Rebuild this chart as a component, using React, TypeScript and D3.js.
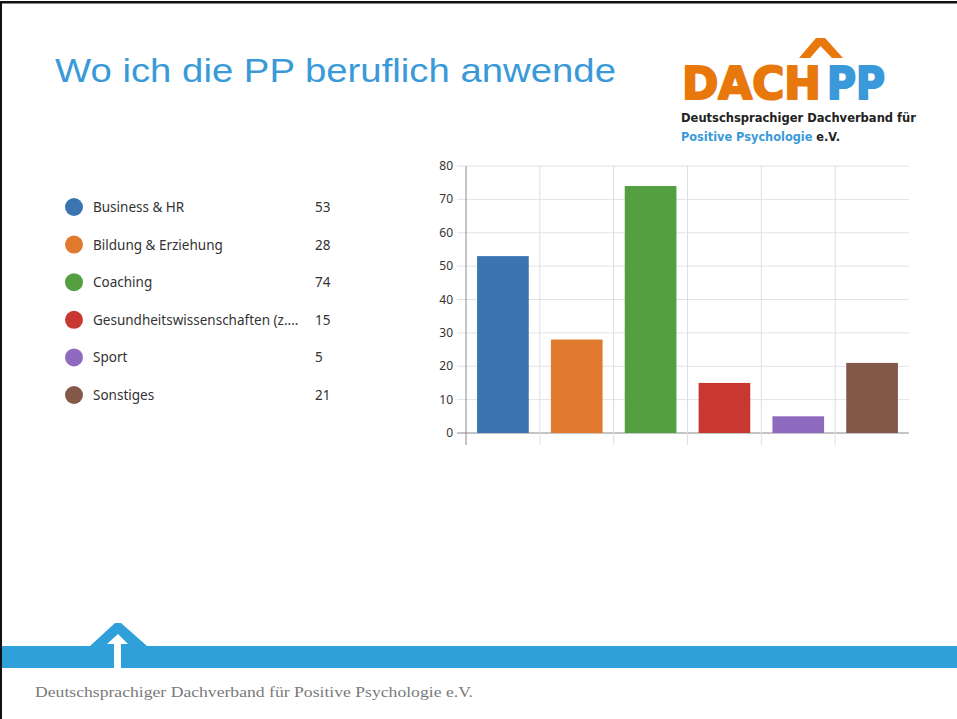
import React from "react";
import * as d3 from "d3";

const categories = ["Business & HR", "Bildung & Erziehung", "Coaching", "Gesundheitswissenschaften (z....", "Sport", "Sonstiges"];
const values = [53, 28, 74, 15, 5, 21];
const colors = ["#3b74b0", "#e07a2e", "#54a040", "#c93731", "#8f6bbf", "#845849"];
const yTicks = [0, 10, 20, 30, 40, 50, 60, 70, 80];

const W = 957, H = 719;

export default function App() {
  const x = d3.scaleBand<string>().domain(categories).range([466, 909]).paddingInner(0.3).paddingOuter(0.15);
  const y = d3.scaleLinear().domain([0, 80]).range([433, 166]);
  const step = x.step();
  const boundaries = d3.range(0, categories.length).map((k) => 466 + k * step);
  const legendY = d3.scalePoint<string>().domain(categories).range([207, 395]);

  return (
    <svg width={W} height={H} style={{ position: "absolute", left: 0, top: 0, background: "#fff" }}>
      <rect x={0} y={0} width={W} height={H} fill="#fff" />
      {/* border */}
      <rect x={0} y={1} width={W} height={2.5} fill="#111" />
      <rect x={0} y={1} width={2} height={H} fill="#111" />

      {/* title */}
      <text x={55} y={82} fontFamily="Liberation Sans, Arial" fontSize={34} fill="#3a9ad9" textLength={561} lengthAdjust="spacingAndGlyphs">
        Wo ich die PP beruflich anwende
      </text>

      {/* logo */}
      <path d="M799,58 L816,38 L825,38 L843,58 L832,58 L820.5,46 L810,58 Z" fill="#e8780c" />
      <text x={682} y={99} fontFamily="DejaVu Sans" fontWeight={700} fontSize={45} fill="#e8780c" stroke="#e8780c" strokeWidth={2.2} strokeLinejoin="round" textLength={139} lengthAdjust="spacingAndGlyphs">DACH</text>
      <text x={827} y={99} fontFamily="DejaVu Sans" fontWeight={700} fontSize={45} fill="#3a9ad9" stroke="#3a9ad9" strokeWidth={2.2} strokeLinejoin="round" textLength={58} lengthAdjust="spacingAndGlyphs">PP</text>
      <text x={681} y={122} fontFamily="DejaVu Sans, Noto Sans" fontWeight={700} fontSize={12.5} fill="#222" textLength={235} lengthAdjust="spacingAndGlyphs">Deutschsprachiger Dachverband für</text>
      <text x={681} y={141} fontFamily="DejaVu Sans, Noto Sans" fontWeight={700} fontSize={12.5} fill="#222" textLength={159} lengthAdjust="spacingAndGlyphs">
        <tspan fill="#3a9ad9">Positive Psychologie</tspan>
        <tspan> e.V.</tspan>
      </text>

      {/* legend */}
      {categories.map((c, i) => (
        <g key={c}>
          <circle cx={74} cy={legendY(c)!} r={9} fill={colors[i]} />
          <text x={93} y={legendY(c)! + 5} fontFamily="Noto Sans, Open Sans" fontSize={13.5} fill="#333">{c}</text>
          <text x={315} y={legendY(c)! + 5} fontFamily="Noto Sans, Open Sans" fontSize={13.5} fill="#333">{values[i]}</text>
        </g>
      ))}

      {/* gridlines */}
      {yTicks.map((t) => (
        <g key={t}>
          <line x1={457} x2={909} y1={y(t)} y2={y(t)} stroke={t === 0 ? "#8a8a8a" : "#e2e2e8"} strokeWidth={1} />
          <text x={453} y={y(t) + 4} textAnchor="end" fontFamily="Noto Sans, Open Sans" fontSize={12} fill="#333">{t}</text>
        </g>
      ))}
      {boundaries.map((b, k) => (
        <line key={k} x1={b} x2={b} y1={166} y2={445} stroke={k === 0 ? "#8a8a8a" : "#dedee4"} strokeWidth={1} />
      ))}

      {/* bars */}
      {categories.map((c, i) => (
        <rect key={c} x={x(c)!} y={y(values[i])} width={x.bandwidth()} height={y(0) - y(values[i])} fill={colors[i]} />
      ))}

      {/* footer band */}
      <rect x={2} y={646} width={W - 2} height={22} fill="#2fa0da" />
      <path d="M90,646 L115,623 L121,623 L147,646 Z" fill="#2fa0da" />
      <path d="M107,644 L118,634 L128,644 Z" fill="#fff" />
      <rect x={114} y={643} width={7} height={25} fill="#fff" />

      <text x={35} y={697} fontFamily="Liberation Serif, DejaVu Serif" fontSize={15} fill="#7a7a7a" textLength={438} lengthAdjust="spacingAndGlyphs">
        Deutschsprachiger Dachverband für Positive Psychologie e.V.
      </text>
    </svg>
  );
}
